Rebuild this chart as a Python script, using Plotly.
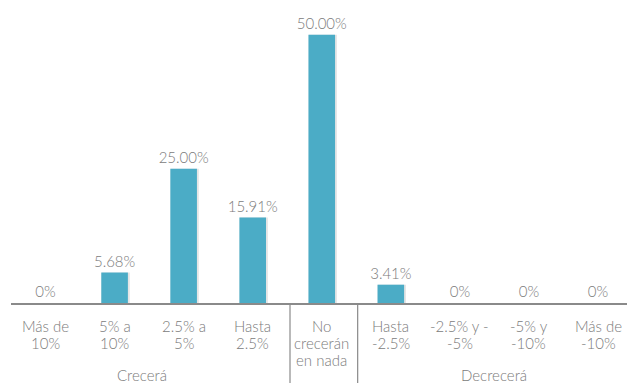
import plotly.graph_objects as go

# Expected revenue change categories (display lines separated by "\n")
categories = [
    "Más de\n10%",
    "5% a\n10%",
    "2.5% a\n5%",
    "Hasta\n2.5%",
    "No\ncrecerán\nen nada",
    "Hasta\n-2.5%",
    "-2.5% y -\n-5%",
    "-5% y\n-10%",
    "Más de\n-10%",
]
values = [0.0, 5.68, 25.00, 15.91, 50.00, 3.41, 0.0, 0.0, 0.0]

# Grouping of the categories under the axis
groups = ["Crecerá", "Decrecerá"]
group_centers = [1.39, 6.5]
group_dividers = [3.54, 4.52]

BAR_COLOR = "#4bacc6"
TEXT_COLOR = "#7b7b7b"
AXIS_COLOR = "#8a8a8a"
FONT = "Lato"

labels = [f"{v:.2f}%" if v else "0%" for v in values]
x = list(range(len(categories)))

fig = go.Figure()
# soft drop shadow behind each bar
fig.add_trace(
    go.Bar(
        x=x,
        y=values,
        width=0.41,
        offset=-0.19,
        marker=dict(color="rgba(0,0,0,0.10)", line=dict(width=0)),
        hoverinfo="skip",
    )
)
fig.add_trace(
    go.Bar(
        x=x,
        y=values,
        width=0.385,
        offset=-0.1925,
        marker=dict(color=BAR_COLOR, line=dict(width=0)),
        text=labels,
        textposition="outside",
        constraintext="none",
        textfont=dict(family=FONT, size=15, color=TEXT_COLOR, weight=300),
        cliponaxis=False,
        hoverinfo="skip",
    )
)

annotations = []
# category labels, one annotation per text line
for i, cat in enumerate(categories):
    for j, line in enumerate(cat.split("\n")):
        annotations.append(
            dict(
                x=i, xref="x", y=0, yref="paper",
                text=line, showarrow=False,
                xanchor="center", yanchor="middle",
                yshift=-23 - 17 * j,
                font=dict(family=FONT, size=15, color=TEXT_COLOR, weight=300),
            )
        )
for name, cx in zip(groups, group_centers):
    annotations.append(
        dict(
            x=cx, xref="x", y=0, yref="paper",
            text=name, showarrow=False,
            xanchor="center", yanchor="middle",
            yshift=-72,
            font=dict(family=FONT, size=15, color=TEXT_COLOR, weight=300),
        )
    )

shapes = [
    dict(
        type="line", xref="x", yref="paper",
        x0=d, x1=d, y0=0, y1=-0.3,
        line=dict(color=AXIS_COLOR, width=1.2),
    )
    for d in group_dividers
]

fig.update_layout(
    width=627,
    height=383,
    margin=dict(l=11, r=0, t=3, b=80),
    paper_bgcolor="white",
    plot_bgcolor="white",
    showlegend=False,
    barmode="overlay",
    annotations=annotations,
    shapes=shapes,
    xaxis=dict(
        range=[-0.5, 8.42],
        showticklabels=False,
        showgrid=False,
        zeroline=False,
        showline=True,
        linecolor=AXIS_COLOR,
        linewidth=1.5,
        ticks="",
        fixedrange=True,
    ),
    yaxis=dict(
        range=[0, 55.9],
        visible=False,
        fixedrange=True,
    ),
)

fig.write_html("out.html")
